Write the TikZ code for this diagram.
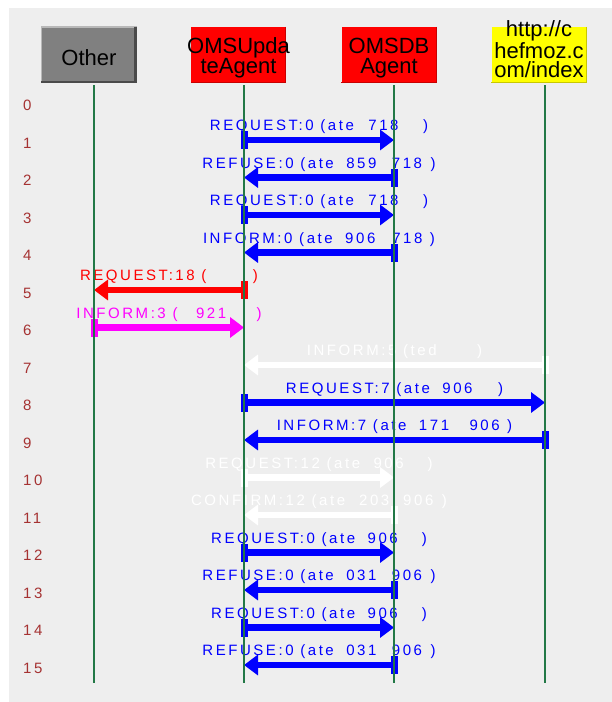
\documentclass[tikz,border=0pt]{standalone}
\usepackage{fontspec}
\setmainfont{Liberation Sans}
\newfontfamily\lblfont{Liberation Sans}[LetterSpace=17]
\usetikzlibrary{arrows.meta}
\newcommand\gp[1]{\hspace*{#1pt}}
\definecolor{panel}{HTML}{EEEEEE}
\definecolor{lifegreen}{RGB}{34,120,70}
\definecolor{rownumc}{RGB}{165,50,50}
\definecolor{msgblue}{RGB}{0,0,255}
\definecolor{msgred}{RGB}{255,0,0}
\definecolor{msgmag}{RGB}{255,0,255}
\definecolor{boxgray}{HTML}{808080}
\definecolor{boxdark}{HTML}{4A4A4A}
\definecolor{boxlight}{HTML}{B8B8B8}
\definecolor{boxred}{RGB}{255,0,0}
\definecolor{boxreddark}{RGB}{200,0,0}
\definecolor{boxyellow}{RGB}{255,255,0}
\definecolor{boxyellowdark}{RGB}{200,200,0}
\begin{document}
\begin{tikzpicture}[x=1pt,y=-1pt,
  box/.style={rectangle, minimum width=95pt, minimum height=56pt, inner sep=0pt},
  boxtxt/.style={inner sep=0pt, align=center, text=black, font=\fontsize{22}{20}\selectfont},
  lifeline/.style={draw=lifegreen, line width=1.4pt},
  msg/.style={line width=6.5pt, -{Triangle[length=14pt,width=20pt]}},
  lbl/.style={midway, anchor=base, yshift=9.5pt, inner sep=0pt, font=\lblfont\fontsize{15}{16}\selectfont},
  bar/.style={rectangle, minimum width=7pt, minimum height=18pt, inner sep=0pt},
  rownum/.style={anchor=base west, inner sep=0pt, text=rownumc, font=\lblfont\fontsize{15}{16}\selectfont}]

\fill[white] (0,0) rectangle (612,702);
\useasboundingbox (0,0) rectangle (612,702);
\fill[panel] (9,8) rectangle (612,702);

% header boxes
\node[box, fill=boxgray] (other) at (89,55) {};
\draw[boxlight, line width=1.5pt] ([yshift=1pt]other.south west) -- (other.north west) -- (other.north east);
\draw[boxdark, line width=3pt] ([xshift=-1.5pt]other.north east) -- ([xshift=-1.5pt]other.south east);
\draw[boxdark, line width=2pt] ([yshift=1pt]other.south west) -- ([yshift=1pt]other.south east);
\node[boxtxt, text height=21pt, text depth=0pt] (otherT) at (other) {Other};

\node[box, fill=boxred] (upd) at (238.5,55) {};
\draw[boxreddark, line width=1.2pt] ([xshift=-0.6pt]upd.north east) -- ([xshift=-0.6pt,yshift=0.6pt]upd.south east) -- ([yshift=0.6pt]upd.south west);
\node[boxtxt, text height=40pt, text depth=4pt] (updT) at (upd) {OMSUpda\\teAgent};

\node[box, fill=boxred] (db) at (389,55) {};
\draw[boxreddark, line width=1.2pt] ([xshift=-0.6pt]db.north east) -- ([xshift=-0.6pt,yshift=0.6pt]db.south east) -- ([yshift=0.6pt]db.south west);
\node[boxtxt, text height=40pt, text depth=4pt] (dbT) at (db) {OMSDB\\Agent};

\node[box, fill=boxyellow] (http) at (539,55) {};
\draw[boxyellowdark, line width=1.2pt] ([xshift=-0.6pt]http.north east) -- ([xshift=-0.6pt,yshift=0.6pt]http.south east) -- ([yshift=0.6pt]http.south west);
\node[boxtxt, font=\fontsize{22}{19}\selectfont, text height=48pt, text depth=4pt] (httpT) at (http) {http://c\\hefmoz.c\\om/index};

% lifeline end points
\coordinate (oT) at (94,85);  \coordinate (oB) at (94,683);
\coordinate (uT) at (244,85); \coordinate (uB) at (244,683);
\coordinate (dT) at (394,85); \coordinate (dB) at (394,683);
\coordinate (hT) at (545,85); \coordinate (hB) at (545,683);

% row numbers and row points
\foreach \k in {0,...,15} {
  \node[rownum] (r\k) at (23,{110.5+37.5*\k}) {\k};
}
\foreach \k in {1,...,15} {
  \coordinate (o\k) at (94,{102.5+37.5*\k});
  \coordinate (u\k) at (244,{102.5+37.5*\k});
  \coordinate (d\k) at (394,{102.5+37.5*\k});
  \coordinate (h\k) at (545,{102.5+37.5*\k});
}

% messages
\draw[msg, msgblue] (u1) -- node[lbl] (m1) {REQUEST:0 (ate\gp{14.5}718\gp{24.5})} (d1);
\node[bar, fill=msgblue] (b1) at (u1) {};
\draw[msg, msgblue] (d2) -- node[lbl] (m2) {REFUSE:0 (ate\gp{12.5}859\gp{15.5}718\gp{8.5})} (u2);
\node[bar, fill=msgblue] (b2) at (d2) {};
\draw[msg, msgblue] (u3) -- node[lbl] (m3) {REQUEST:0 (ate\gp{14.5}718\gp{24.5})} (d3);
\node[bar, fill=msgblue] (b3) at (u3) {};
\draw[msg, msgblue] (d4) -- node[lbl] (m4) {INFORM:0 (ate\gp{12.5}906\gp{17}718\gp{7.5})} (u4);
\node[bar, fill=msgblue] (b4) at (d4) {};
\draw[msg, msgred] (u5) -- node[lbl] (m5) {REQUEST:18 (\gp{46.5})} (o5);
\node[bar, fill=msgred] (b5) at (u5) {};
\draw[msg, msgmag] (o6) -- node[lbl] (m6) {INFORM:3 (\gp{18.5}921\gp{30.5})} (u6);
\node[bar, fill=msgmag] (b6) at (o6) {};
\draw[msg, white] (h7) -- node[lbl] (m7) {INFORM:5 (ted\gp{40.5})} (u7);
\node[bar, fill=white] (b7) at (h7) {};
\draw[msg, msgblue] (u8) -- node[lbl] (m8) {REQUEST:7 (ate\gp{12.5}906\gp{25.5})} (h8);
\node[bar, fill=msgblue] (b8) at (u8) {};
\draw[msg, msgblue] (h9) -- node[lbl] (m9) {INFORM:7 (ate\gp{12.5}171\gp{20.5}906\gp{7.5})} (u9);
\node[bar, fill=msgblue] (b9) at (h9) {};
\draw[msg, white] (u10) -- node[lbl] (m10) {REQUEST:12 (ate\gp{13.5}906\gp{24})} (d10);
\node[bar, fill=white] (b10) at (u10) {};
\draw[msg, white] (d11) -- node[lbl] (m11) {CONFIRM:12 (ate\gp{14}203\gp{14}906\gp{8.5})} (u11);
\node[bar, fill=white] (b11) at (d11) {};
\draw[msg, msgblue] (u12) -- node[lbl] (m12) {REQUEST:0 (ate\gp{12.5}906\gp{24})} (d12);
\node[bar, fill=msgblue] (b12) at (u12) {};
\draw[msg, msgblue] (d13) -- node[lbl] (m13) {REFUSE:0 (ate\gp{12.5}031\gp{15.5}906\gp{8.5})} (u13);
\node[bar, fill=msgblue] (b13) at (d13) {};
\draw[msg, msgblue] (u14) -- node[lbl] (m14) {REQUEST:0 (ate\gp{12.5}906\gp{24})} (d14);
\node[bar, fill=msgblue] (b14) at (u14) {};
\draw[msg, msgblue] (d15) -- node[lbl] (m15) {REFUSE:0 (ate\gp{12.5}031\gp{15.5}906\gp{8.5})} (u15);
\node[bar, fill=msgblue] (b15) at (d15) {};

% lifelines on top
\draw[lifeline] (oT) -- (oB);
\draw[lifeline] (uT) -- (uB);
\draw[lifeline] (dT) -- (dB);
\draw[lifeline] (hT) -- (hB);
\end{tikzpicture}
\end{document}
